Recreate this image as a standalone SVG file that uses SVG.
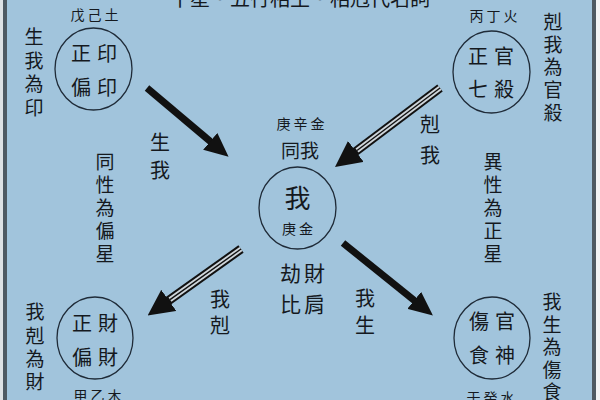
<svg xmlns="http://www.w3.org/2000/svg" width="600" height="400" viewBox="0 0 600 400">
<defs>
<style>
text{font-family:"Noto Sans CJK TC","Noto Sans CJK SC",sans-serif;fill:#15191e;text-anchor:middle}
.v{writing-mode:vertical-rl;text-anchor:start}
.ring{fill:none;stroke:#1f2b38;stroke-width:1.3}
.big{font-size:20px;letter-spacing:6px}
.el{font-size:14px;letter-spacing:3px}
.lab{font-size:19px}
.rel{font-size:20px}
.solid{stroke:#111;stroke-width:7;fill:none}
.hollowOut{stroke:#111;stroke-width:9;fill:none}
.hollowIn{stroke:#cfd6db;stroke-width:5;fill:none}
.hollowMid{stroke:#111;stroke-width:1.4;fill:none}
</style>
<marker id="headS" markerUnits="userSpaceOnUse" markerWidth="24" markerHeight="22" refX="1" refY="11" orient="auto">
<path d="M0,0 L24,11 L0,22 z" fill="#111"/>
</marker>
<marker id="headH" markerUnits="userSpaceOnUse" markerWidth="26" markerHeight="26" refX="1" refY="13" orient="auto">
<path d="M0,0 L26,13 L0,26 z" fill="#111"/>
</marker>
</defs>
<rect x="0" y="0" width="600" height="400" fill="#a1c4dc"/>
<rect x="0" y="0" width="3" height="400" fill="#dde1e4"/>
<rect x="3" y="0" width="4" height="400" fill="#4e5962"/>
<rect x="592" y="0" width="4" height="400" fill="#4e5962"/>
<rect x="596" y="0" width="4" height="400" fill="#f2f3f4"/>

<text x="300" y="6" style="font-size:20px">十星・五行相生・相剋代名詞</text>

<g id="connectors">
<line class="solid" x1="147" y1="88" x2="211" y2="142" marker-end="url(#headS)"/>
<line class="solid" x1="343" y1="243" x2="415" y2="301" marker-end="url(#headS)"/>
<line class="hollowOut" x1="440" y1="88" x2="355" y2="152" marker-end="url(#headH)"/>
<line class="hollowIn" x1="440" y1="88" x2="357" y2="150.5"/>
<line class="hollowMid" x1="440" y1="88" x2="357" y2="150.5"/>
<line class="hollowOut" x1="241" y1="249" x2="168" y2="301" marker-end="url(#headH)"/>
<line class="hollowIn" x1="241" y1="249" x2="170" y2="299.6"/>
<line class="hollowMid" x1="241" y1="249" x2="170" y2="299.6"/>
</g>

<g id="node-yin">
<ellipse class="ring" cx="93.5" cy="69" rx="38.5" ry="41"/>
<text class="el" x="96" y="20">戊己土</text>
<text class="big" x="97" y="61">正印</text>
<text class="big" x="97" y="95">偏印</text>
</g>

<g id="node-guan">
<ellipse class="ring" cx="491.5" cy="72" rx="38.5" ry="41"/>
<text class="el" x="495" y="21">丙丁火</text>
<text class="big" x="494" y="64">正官</text>
<text class="big" x="494" y="97">七殺</text>
</g>

<g id="node-me">
<ellipse class="ring" cx="297.5" cy="208" rx="38.5" ry="41"/>
<text x="297.5" y="208" style="font-size:26px">我</text>
<text class="el" x="299" y="234">庚金</text>
</g>

<g id="node-cai">
<ellipse class="ring" cx="95" cy="338" rx="38" ry="41"/>
<text class="big" x="98" y="331">正財</text>
<text class="big" x="98" y="365">偏財</text>
<text class="el" x="99" y="401">甲乙木</text>
</g>

<g id="node-shishang">
<ellipse class="ring" cx="492" cy="338" rx="38" ry="41"/>
<text class="big" x="495" y="329">傷官</text>
<text class="big" x="495" y="363">食神</text>
<text class="el" x="492" y="403">壬癸水</text>
</g>

<g id="labels">
<text class="el" x="302" y="129">庚辛金</text>
<text class="lab" x="300" y="158">同我</text>
<text x="304" y="281" style="font-size:21px;letter-spacing:3px">劫財</text>
<text x="304" y="312" style="font-size:21px;letter-spacing:3px">比肩</text>

<text class="lab v" x="34" y="27.5" style="letter-spacing:4.5px">生我為印</text>
<text class="lab v" x="553" y="12.5" style="letter-spacing:3.6px">剋我為官殺</text>
<text class="lab v" x="35" y="302.5" style="letter-spacing:4.3px">我剋為財</text>
<text class="lab v" x="552" y="292.5" style="letter-spacing:3.5px">我生為傷食</text>
<text class="lab v" x="105" y="152.5" style="letter-spacing:4px">同性為偏星</text>
<text class="lab v" x="493" y="152.5" style="letter-spacing:4px">異性為正星</text>

<text class="rel v" x="160" y="132" style="letter-spacing:8px">生我</text>
<text class="rel v" x="430" y="114" style="letter-spacing:11px">剋我</text>
<text class="rel v" x="220" y="289" style="letter-spacing:6px">我剋</text>
<text class="rel v" x="365" y="288" style="letter-spacing:7px">我生</text>
</g>
</svg>
